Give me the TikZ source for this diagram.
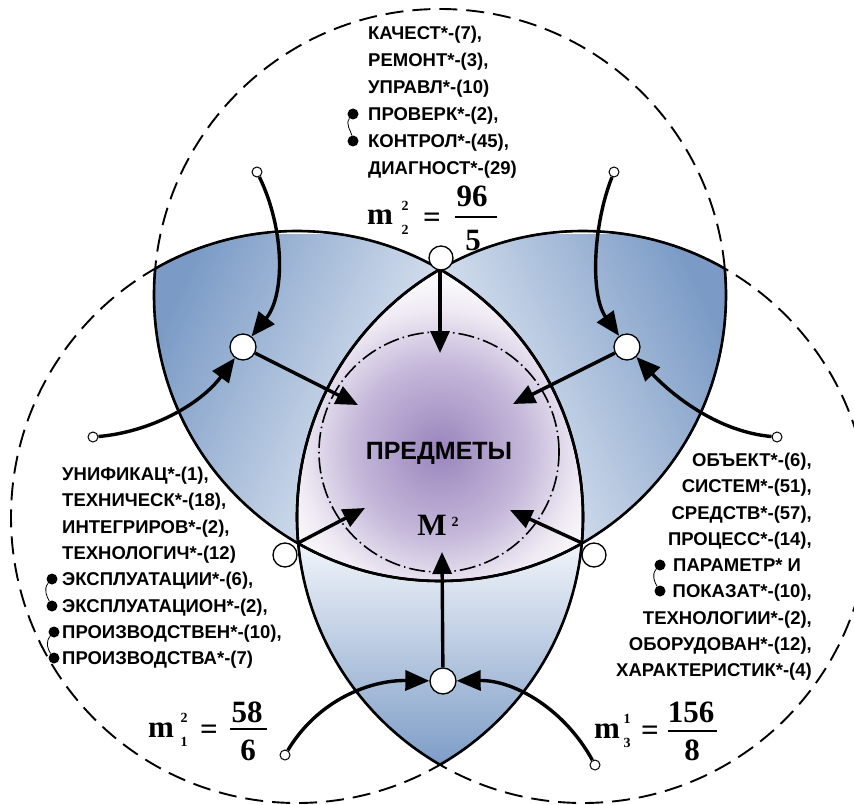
\documentclass[tikz,border=0pt]{standalone}
\usepackage{fontspec}
\setmainfont{Liberation Sans}
\newfontfamily\tnr{Liberation Serif}
\usetikzlibrary{arrows.meta}
\definecolor{pdark}{HTML}{7B9BC6}
\definecolor{plight}{HTML}{F2F5FA}
\definecolor{cpur}{HTML}{9A85BD}
\definecolor{cpur2}{HTML}{C4B7D9}
\definecolor{cmid}{HTML}{EEE9F3}
\definecolor{cwhite}{HTML}{FAF9FC}
\definecolor{clav}{HTML}{ECE6F1}
\pgfdeclareradialshading{ctrshade}{\pgfpoint{0bp}{0bp}}{color(0bp)=(cpur); color(8.5bp)=(cpur2); color(14bp)=(cmid); color(16.8bp)=(cwhite); color(20bp)=(clav); color(50bp)=(clav)}
\tikzset{
 solidc/.style={line width=2.6pt},
 dashc/.style={line width=1.9pt, dash pattern=on 18pt off 9pt},
 ddot/.style={line width=1.6pt, dash pattern=on 16pt off 4pt on 1.5pt off 4pt},
 arr/.style={line width=3.4pt, -{Triangle[length=22pt,width=19pt]}},
 carr/.style={line width=3.4pt, -{Triangle[length=24pt,width=20pt]}},
 bignode/.style={circle, draw, fill=white, line width=1.3pt, minimum size=26pt, inner sep=0},
 jnode/.style={circle, draw, fill=white, line width=1.3pt, minimum size=24pt, inner sep=0},
 snode/.style={circle, draw, fill=white, line width=1pt, minimum size=10pt, inner sep=0},
 bul/.style={circle, fill=black, minimum size=11pt, inner sep=0},
 bcon/.style={line width=0.8pt},
 txt/.style={font=\fontsize{18.5}{22}\selectfont\bfseries, inner sep=0},
 fbig/.style={font=\tnr\fontsize{31}{31}\selectfont\bfseries, inner sep=0},
 fsm/.style={font=\tnr\fontsize{14}{14}\selectfont\bfseries, inner sep=0, text height=9.5pt, text depth=0pt},
 fscr/.style={font=\tnr\fontsize{14}{24}\selectfont\bfseries, inner sep=0, align=center},
 fbar/.style={line width=1.6pt},
}
\begin{document}
\begin{tikzpicture}[x=1pt,y=-1pt]
\useasboundingbox (0,0) rectangle (854,805);
\clip (0,0) rectangle (854,805);
\def\rr{286pt}
\coordinate (CT) at (440,295);
\coordinate (CL) at (297,517);
\coordinate (CR) at (583,517);
% petals
\begin{scope}
 \clip (CT) circle[radius=\rr]; \clip (CL) circle[radius=\rr];
 \shade[top color=pdark, bottom color=plight, shading angle=65] (150,235) rectangle (450,560);
\end{scope}
\begin{scope}
 \clip (CT) circle[radius=\rr]; \clip (CR) circle[radius=\rr];
 \shade[top color=pdark, bottom color=plight, shading angle=-65] (430,235) rectangle (730,560);
\end{scope}
\begin{scope}
 \clip (CL) circle[radius=\rr]; \clip (CR) circle[radius=\rr];
 \shade[top color=plight, bottom color=pdark] (290,540) rectangle (590,770);
\end{scope}
% centre
\begin{scope}
 \clip (CT) circle[radius=\rr]; \clip (CL) circle[radius=\rr]; \clip (CR) circle[radius=\rr];
 \shade[shading=ctrshade] (440,450) circle[radius=250pt];
\end{scope}
% dashed circles
\draw[dashc] (CT) circle[radius=\rr];
\draw[dashc] (CL) circle[radius=\rr];
\draw[dashc] (CR) circle[radius=\rr];
% solid arcs
\begin{scope}
 \clip (CL) circle[radius=\rr];
 \draw[solidc] (CT) circle[radius=\rr];
 \draw[solidc] (CR) circle[radius=\rr];
\end{scope}
\begin{scope}
 \clip (CT) circle[radius=\rr];
 \draw[solidc] (CL) circle[radius=\rr];
 \draw[solidc] (CR) circle[radius=\rr];
\end{scope}
\begin{scope}
 \clip (CR) circle[radius=\rr];
 \draw[solidc] (CT) circle[radius=\rr];
 \draw[solidc] (CL) circle[radius=\rr];
\end{scope}
% dash-dot circle
\draw[ddot] (439,452) circle[radius=120pt];
% junctions and arrow targets
\coordinate (jT) at (440,269);
\coordinate (jL) at (298,543);
\coordinate (jR) at (582,543);
\coordinate (cT) at (440,353);
\coordinate (cUL) at (358,405);
\coordinate (cUR) at (513,404);
\coordinate (cLL) at (365,508);
\coordinate (cLR) at (510,510);
\coordinate (cB) at (442,552);
\node[bignode] (N1) at (243,347) {};
\node[bignode] (N2) at (627,347) {};
\node[bignode] (N3) at (443,681) {};
\draw[arr] (jT) -- (cT);
\draw[arr] (jL) -- (cLL);
\draw[arr] (jR) -- (cLR);
\draw[arr] (N1) -- (cUL);
\draw[arr] (N2) -- (cUR);
\draw[arr] (N3) -- (cB);
\node[jnode] (oT) at (441,258) {};
\node[jnode] (oL) at (285,555) {};
\node[jnode] (oR) at (594,555) {};
% curved input arrows
\node[snode] (s1) at (257,172) {};
\node[snode] (s2) at (93,437) {};
\node[snode] (s3) at (614,172) {};
\node[snode] (s4) at (777,437) {};
\node[snode] (s5) at (285,755) {};
\node[snode] (s6) at (595,765) {};
\draw[carr] (s1) .. controls (285,230) and (285,295) .. (N1);
\draw[carr] (s2) .. controls (150,432) and (200,405) .. (N1);
\draw[carr] (s3) .. controls (593,225) and (590,295) .. (N2);
\draw[carr] (s4) .. controls (720,432) and (675,398) .. (N2);
\draw[carr] (s5) .. controls (318,700) and (370,680) .. (N3);
\draw[carr] (s6) .. controls (565,710) and (515,680) .. (N3);
% centre labels
\node[font=\fontsize{25}{25}\selectfont\bfseries, anchor=base, inner sep=0] (pred) at (439,459) {ПРЕДМЕТЫ};
\node[font=\tnr\fontsize{31}{31}\selectfont\bfseries, anchor=base, inner sep=0] (Mtxt) at (432,535) {M};
\node[fsm, anchor=base] (Msup) at (455,526) {2};
% top text block
\foreach \t [count=\i] in {{КАЧЕСТ*-(7),},{РЕМОНТ*-(3),},{УПРАВЛ*-(10)},{ПРОВЕРК*-(2),},{КОНТРОЛ*-(45),},{ДИАГНОСТ*-(29)}}
 \node[txt, anchor=base west] (top\i) at (368,{39.5+27*(\i-1)}) {\t};
\node[bul] (bt1) at (353,114) {};
\node[bul] (bt2) at (353,141) {};
\draw[bcon] (bt1) .. controls (345,124) and (351,131) .. (bt2);
% left text block
\foreach \t [count=\i] in {{УНИФИКАЦ*-(1),},{ТЕХНИЧЕСК*-(18),},{ИНТЕГРИРОВ*-(2),},{ТЕХНОЛОГИЧ*-(12)},{ЭКСПЛУАТАЦИИ*-(6),},{ЭКСПЛУАТАЦИОН*-(2),},{ПРОИЗВОДСТВЕН*-(10),},{ПРОИЗВОДСТВА*-(7)}}
 \node[txt, anchor=base west] (lft\i) at (62,{480.5+26.3*(\i-1)}) {\t};
\node[bul] (bl1) at (52,579) {};
\node[bul] (bl2) at (52,606) {};
\node[bul] (bl3) at (54,632) {};
\node[bul] (bl4) at (54,658) {};
\draw[bcon] (bl1) .. controls (43,589) and (47,597) .. (bl2);
\draw[bcon] (bl3) .. controls (45,642) and (48,650) .. (bl4);
% right text block
\foreach \t [count=\i] in {{ОБЪЕКТ*-(6),},{СИСТЕМ*-(51),},{СРЕДСТВ*-(57),},{ПРОЦЕСС*-(14),}}
 \node[txt, anchor=base east] (rgt\i) at (812,{466.5+26.25*(\i-1)}) {\t};
\node[txt, anchor=base west] (rgt5) at (673,571.5) {ПАРАМЕТР* И};
\foreach \t [count=\i from 6] in {{ПОКАЗАТ*-(10),},{ТЕХНОЛОГИИ*-(2),},{ОБОРУДОВАН*-(12),},{ХАРАКТЕРИСТИК*-(4)}}
 \node[txt, anchor=base east] (rgt\i) at (812,{466.5+26.25*(\i-1)}) {\t};
\node[bul] (br1) at (660,565) {};
\node[bul] (br2) at (660,591) {};
\draw[bcon] (br1) .. controls (651,575) and (655,583) .. (br2);
% formula A
\node[fbig, anchor=base west] (mA) at (367,225) {m};
\node[fscr] (scA) at (405,218) {2\\2};
\node[fbig, anchor=base] (eqA) at (432,228) {=};
\node[fbig, anchor=base] (numA) at (472,207) {96};
\coordinate (barA1) at (455,217); \coordinate (barA2) at (497,217);
\draw[fbar] (barA1) -- (barA2);
\node[fbig, anchor=base] (denA) at (473,251) {5};
% formula B
\node[fbig, anchor=base west] (mB) at (148,737) {m};
\node[fscr] (scB) at (184,730) {2\\1};
\node[fbig, anchor=base] (eqB) at (209,739) {=};
\node[fbig, anchor=base] (numB) at (247,722) {58};
\coordinate (barB1) at (230,729); \coordinate (barB2) at (267,729);
\draw[fbar] (barB1) -- (barB2);
\node[fbig, anchor=base] (denB) at (248,760) {6};
% formula C
\node[fbig, anchor=base west] (mC) at (594,738) {m};
\node[fscr] (scC) at (627,731) {1\\3};
\node[fbig, anchor=base] (eqC) at (650,740) {=};
\node[fbig, anchor=base] (numC) at (691,722) {156};
\coordinate (barC1) at (668,731); \coordinate (barC2) at (717,731);
\draw[fbar] (barC1) -- (barC2);
\node[fbig, anchor=base] (denC) at (692,760) {8};
\end{tikzpicture}
\end{document}
